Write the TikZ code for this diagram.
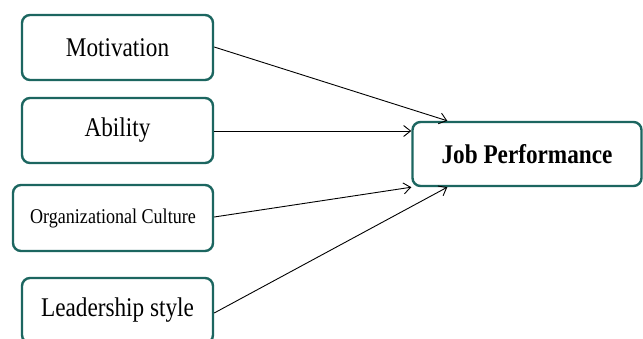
\documentclass[tikz,border=0pt]{standalone}
\usepackage{fontspec}
\setmainfont{Liberation Serif}
\newfontfamily\nserif[FakeStretch=0.86]{Liberation Serif}
\usetikzlibrary{arrows.meta,calc}
\definecolor{teal}{RGB}{28,102,96}
\begin{document}
\begin{tikzpicture}[x=1pt,y=-1pt,
  box/.style={draw=teal,line width=2.4pt,rounded corners=8pt,fill=white,
    inner sep=0pt,align=center},
  lbl/.style={font=\nserif\fontsize{27}{30}\selectfont},
  arr/.style={draw=black,line width=0.9pt,-{Straight Barb[length=7pt,width=11pt,line width=0.9pt]}}]
\clip (0,0) rectangle (643,338);
\fill[white] (0,0) rectangle (643,338);
\node[box,lbl,minimum width=191pt,minimum height=65pt] (mot) at (117.5,47.5) {Motivation};
\node[box,lbl,minimum width=191pt,minimum height=65pt] (abi) at (117.5,130.5) {Ability};
\node[box,font=\nserif\fontsize{21}{24}\selectfont,minimum width=200pt,minimum height=66pt] (org) at (113,218) {Organizational Culture};
\node[box,lbl,minimum width=191pt,minimum height=65pt] (lead) at (117.5,310.5) {Leadership style};
\node[box,font=\nserif\bfseries\fontsize{27}{30}\selectfont,minimum width=229pt,minimum height=64pt] (jp) at (527,154) {Job Performance};
\coordinate (e1) at ($(jp.north west)+(36,0)$);
\coordinate (e2) at ($(jp.west)+(0,-23)$);
\coordinate (e4) at ($(jp.south west)+(36,0)$);
\draw[arr] ($(mot.east)+(0,-0.5)$) -- (e1);
\draw[arr] ($(abi.east)+(0,0.5)$) -- (e2);
\draw[arr] ($(org.east)+(0,-1)$) -- (jp.south west);
\draw[arr] ($(lead.east)+(0,2.5)$) -- (e4);
\end{tikzpicture}
\end{document}
